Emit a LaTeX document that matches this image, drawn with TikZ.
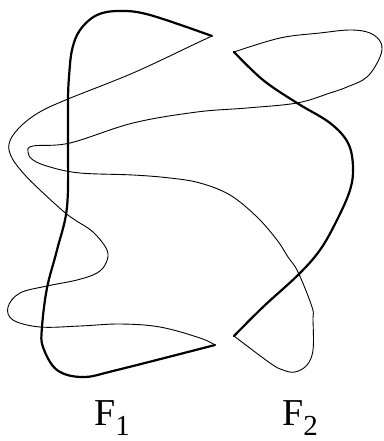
\documentclass[tikz,border=0pt]{standalone}
\usepackage{fontspec}
\setmainfont{Liberation Serif}
\begin{document}
\begin{tikzpicture}[x=1pt,y=-1pt,
  thickc/.style={line width=2.2pt,line join=round,line cap=round},
  thinc/.style={line width=0.9pt,line join=round,line cap=round},
  lab/.style={anchor=base west,inner sep=0pt,font=\rmfamily\fontsize{38}{38}\selectfont}]
\useasboundingbox (0,0) rectangle (383,441);
% F1 thick
\draw[thickc] plot[smooth,tension=0.6] coordinates {(212,36) (150,15) (120,11) (97,15) (80,30) (72,50) (69,77) (68,100) (68,143) (67,207) (57,250) (47,288) (42,327) (43,347) (57,370) (83,377) (117,370) (215,345)};
% F1 thin
\draw[thinc] plot[smooth,tension=0.6] coordinates {(212,36) (197,43) (133,73) (68,99) (38,113) (18,129) (9,144) (12,158) (24,174) (40,190) (63,211) (75,220) (93,232) (107,250) (106,263) (97,273) (77,280) (47,286) (20,293) (8,307) (13,320) (40,327) (80,326) (120,324) (160,327) (200,338) (215,345)};
% F2 thick
\draw[thickc] plot[smooth,tension=0.6] coordinates {(234,52) (263,80) (297,103) (330,123) (348,143) (353,167) (350,190) (337,220) (320,250) (298,275) (263,307) (234,336)};
% F2 thin
\draw[thinc] plot[smooth,tension=0.6] coordinates {(234,52) (280,38) (320,33) (350,30) (370,33) (381,43) (380,57) (367,77) (347,87) (330,93) (297,103) (247,108) (197,112) (133,123) (70,143) (33,146) (28,152) (33,160) (50,167) (80,173) (133,175) (170,178) (200,183) (230,195) (257,217) (277,240) (288,257) (298,272) (312,307) (313,320) (313,350) (307,365) (295,372) (283,370) (270,363) (234,336)};
\node[lab] (f1) at (94,425) {F\raisebox{-10pt}{\fontsize{29}{29}\selectfont 1}};
\node[lab] (f2) at (282,425) {F\raisebox{-10pt}{\fontsize{29}{29}\selectfont 2}};
\end{tikzpicture}
\end{document}
